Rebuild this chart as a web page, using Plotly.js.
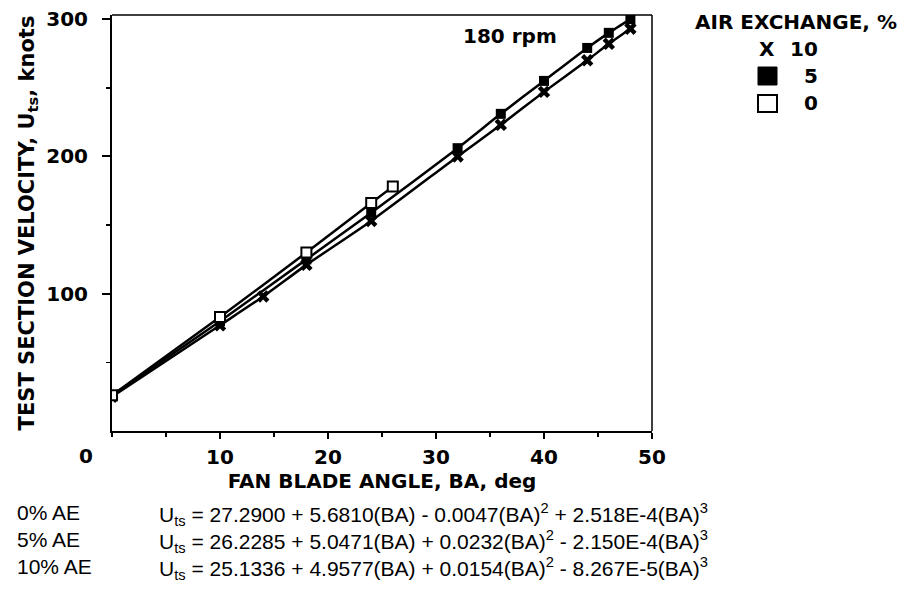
<!DOCTYPE html>
<html>
<head>
<meta charset="utf-8">
<script src="https://cdn.plot.ly/plotly-3.0.1.min.js"></script>
<style>html,body{margin:0;padding:0;background:#fff;}#chart{width:907px;height:593px;}</style>
</head>
<body>
<div id="chart"></div>
<script>
// ---- data ----
const bladeAngle0 = [0, 10, 18, 24, 26];
const velocity0   = [26, 83, 130, 166, 178];

const bladeAngle5 = [0, 10, 18, 24, 32, 36, 40, 44, 46, 48];
const velocity5   = [26, 80, 125, 159, 206, 231, 255, 279, 290, 300];

const bladeAngle10 = [0, 10, 14, 18, 24, 32, 36, 40, 44, 46, 48];
const velocity10   = [25, 77, 98, 121, 153, 200, 223, 247, 270, 282, 293];

const xTickVals = [10, 20, 30, 40, 50];
const xTickText = ['10', '20', '30', '40', '50'];
const xMinorVals = [0, 5, 15, 25, 35, 45];
const yTickVals = [100, 200, 300];
const yTickText = ['100', '200', '300'];
const yMinorVals = [50, 150, 250];

const legendTitle = 'AIR EXCHANGE, %';
const legendLabels = ['10', '5', '0'];
const rowLabels = ['0% AE', '5% AE', '10% AE'];
const equations = [
  'U<sub>ts</sub> = 27.2900 + 5.6810(BA) - 0.0047(BA)<sup>2</sup> + 2.518E-4(BA)<sup>3</sup>',
  'U<sub>ts</sub> = 26.2285 + 5.0471(BA) + 0.0232(BA)<sup>2</sup> - 2.150E-4(BA)<sup>3</sup>',
  'U<sub>ts</sub> = 25.1336 + 4.9577(BA) + 0.0154(BA)<sup>2</sup> - 8.267E-5(BA)<sup>3</sup>'
];

// ---- layout helpers (pixel -> paper) ----
const L = 112, R = 652, T = 15, B = 431;
const px = x => (x - L) / (R - L);
const py = y => (B - y) / (B - T);

const boldFont = {family: 'DejaVu Sans', size: 20, color: '#000', weight: 'bold'};
const regFont = {family: 'Liberation Sans, Arial', size: 21, color: '#000'};

const lineStyle = {color: '#000', width: 2.5, shape: 'spline', smoothing: 0.6};

const traces = [
  {x: bladeAngle10, y: velocity10, mode: 'lines+markers', name: '10',
   line: lineStyle, marker: {symbol: 'x', size: 11, color: '#000', line: {width: 0}}},
  {x: bladeAngle5, y: velocity5, mode: 'lines+markers', name: '5',
   line: lineStyle, marker: {symbol: 'square', size: 10, color: '#000', line: {width: 0}}},
  {x: bladeAngle0, y: velocity0, mode: 'lines+markers', name: '0',
   line: lineStyle, marker: {symbol: 'square', size: 10, color: '#fff', line: {color: '#000', width: 2}}}
];

const annotations = [
  {text: '180 rpm', x: px(510), y: py(36), xref: 'paper', yref: 'paper', showarrow: false,
   xanchor: 'center', yanchor: 'middle', font: boldFont},
  {text: '0', x: px(86), y: py(456), xref: 'paper', yref: 'paper', showarrow: false,
   xanchor: 'center', yanchor: 'middle', font: boldFont},
  {text: legendTitle, x: px(796), y: py(22), xref: 'paper', yref: 'paper', showarrow: false,
   xanchor: 'center', yanchor: 'middle', font: boldFont},
  {text: 'X', x: px(767), y: py(49), xref: 'paper', yref: 'paper', showarrow: false,
   xanchor: 'center', yanchor: 'middle', font: boldFont},
  {text: legendLabels[0], x: px(820), y: py(49), xref: 'paper', yref: 'paper', showarrow: false,
   xanchor: 'right', yanchor: 'middle', font: boldFont},
  {text: legendLabels[1], x: px(820), y: py(76), xref: 'paper', yref: 'paper', showarrow: false,
   xanchor: 'right', yanchor: 'middle', font: boldFont},
  {text: legendLabels[2], x: px(820), y: py(103), xref: 'paper', yref: 'paper', showarrow: false,
   xanchor: 'right', yanchor: 'middle', font: boldFont}
];
const rowY = [512, 539, 566];
rowLabels.forEach((t, i) => {
  annotations.push({text: t, x: px(15), y: py(rowY[i]), xref: 'paper', yref: 'paper', showarrow: false,
    xanchor: 'left', yanchor: 'middle', font: regFont});
  annotations.push({text: equations[i], x: px(157), y: py(rowY[i] + 2), xref: 'paper', yref: 'paper', showarrow: false,
    xanchor: 'left', yanchor: 'middle', font: regFont});
});

const shapes = [
  {type: 'line', xref: 'paper', yref: 'paper', x0: 0, x1: 1, y0: 1, y1: 1, line: {color: '#000', width: 1.5}},
  {type: 'line', xref: 'paper', yref: 'paper', x0: 1, x1: 1, y0: 0, y1: 1, line: {color: '#000', width: 1.5}},
  {type: 'rect', xref: 'paper', yref: 'paper', x0: px(758), x1: px(777), y0: py(85), y1: py(67),
   fillcolor: '#000', line: {color: '#000', width: 1}},
  {type: 'rect', xref: 'paper', yref: 'paper', x0: px(758), x1: px(777), y0: py(112), y1: py(95),
   fillcolor: '#fff', line: {color: '#000', width: 2}}
];

const layout = {
  width: 907, height: 593,
  margin: {l: L, r: 907 - R, t: T, b: 593 - B, pad: 0},
  paper_bgcolor: '#fff', plot_bgcolor: '#fff',
  showlegend: false,
  xaxis: {
    range: [0, 50], showgrid: false, zeroline: false,
    showline: true, linecolor: '#000', linewidth: 2,
    ticks: 'outside', ticklen: 6, tickwidth: 2, tickcolor: '#000',
    tickvals: xTickVals, ticktext: xTickText, tickfont: boldFont, ticklabelstandoff: 1,
    minor: {tickvals: xMinorVals, ticks: 'outside', ticklen: 4, tickwidth: 1.5, tickcolor: '#000', showgrid: false},
    title: {text: 'FAN BLADE ANGLE, BA, deg', font: boldFont, standoff: 0}
  },
  yaxis: {
    range: [0, 303], showgrid: false, zeroline: false,
    showline: true, linecolor: '#000', linewidth: 2,
    ticks: 'outside', ticklen: 8, tickwidth: 2, tickcolor: '#000',
    tickvals: yTickVals, ticktext: yTickText, tickfont: boldFont, ticklabelstandoff: 10,
    minor: {tickvals: yMinorVals, ticks: 'outside', ticklen: 4, tickwidth: 1.5, tickcolor: '#000', showgrid: false},
    title: {text: 'TEST SECTION VELOCITY, U<sub>ts</sub>, knots', font: Object.assign({}, boldFont, {size: 21}), standoff: 6}
  },
  annotations: annotations,
  shapes: shapes
};

Plotly.newPlot('chart', traces, layout, {displayModeBar: false, staticPlot: true});
</script>
</body>
</html>
